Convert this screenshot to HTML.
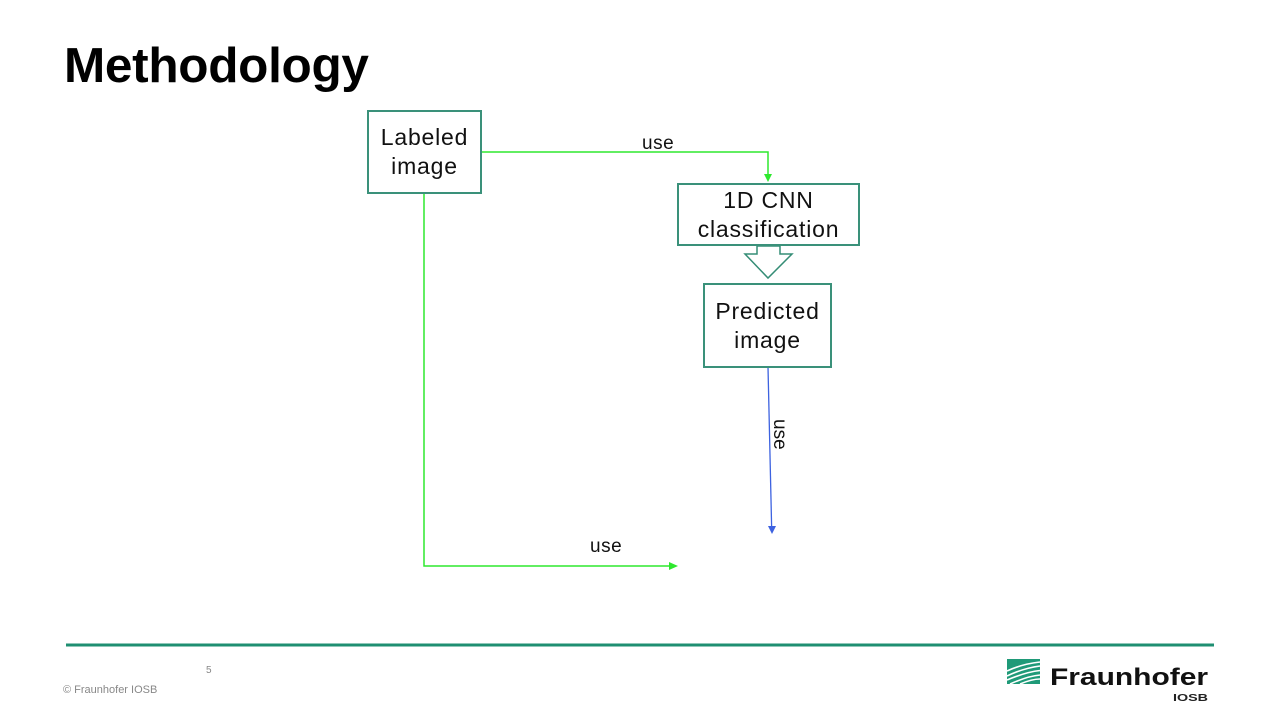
<!DOCTYPE html>
<html>
<head>
<meta charset="utf-8">
<style>
  html, body { margin:0; padding:0; background:#fff; }
  body { width:1280px; height:718px; position:relative; overflow:hidden; font-family:"Liberation Sans", "DejaVu Sans", sans-serif; }
  .title { position:absolute; left:64px; top:38px; font-size:49.5px; font-weight:bold; color:#000; line-height:56px; letter-spacing:-0.3px; }
  .box { position:absolute; border:2px solid #3a917a; box-sizing:border-box; background:#fff; display:flex; align-items:center; justify-content:center; text-align:center; font-size:23px; letter-spacing:0.8px; line-height:29px; color:#111; }
  .lbl { position:absolute; font-size:19px; letter-spacing:0.5px; color:#111; }
</style>
</head>
<body>
<div class="title">Methodology</div>

<svg width="1280" height="718" style="position:absolute;left:0;top:0">
  <!-- green connector 1 -->
  <polyline points="481,152 768,152 768,175" fill="none" stroke="#2ee82e" stroke-width="1.5"/>
  <polygon points="764,174 772,174 768,182" fill="#2ee82e"/>
  <!-- green connector 2 -->
  <polyline points="424,194 424,566 670,566" fill="none" stroke="#2ee82e" stroke-width="1.5"/>
  <polygon points="669,562 669,570 678,566" fill="#2ee82e"/>
  <!-- blue connector -->
  <line x1="768" y1="367" x2="771.6" y2="526" stroke="#3d62e0" stroke-width="1.3"/>
  <polygon points="768,526 776,526 772,534" fill="#3d62e0"/>
  <!-- block arrow -->
  <polygon points="757,246 780,246 780,254 792,254 768,278 745,254 757,254" fill="#fff" stroke="#358d76" stroke-width="1.5"/>
  <!-- bottom rule -->
  <rect x="66" y="643.5" width="1148" height="3" fill="#1f8f72"/>
  <!-- logo icon -->
  <g>
    <rect x="1007" y="659" width="33" height="25" fill="#1f9a78"/>
    <path d="M1007,671 Q1022,664 1040,662" stroke="#fff" stroke-width="1.6" fill="none"/>
    <path d="M1007,676 Q1024,668 1040,666" stroke="#fff" stroke-width="1.6" fill="none"/>
    <path d="M1007,680 Q1026,672 1040,670.5" stroke="#fff" stroke-width="1.6" fill="none"/>
    <path d="M1010,684 Q1028,676 1040,675" stroke="#fff" stroke-width="1.6" fill="none"/>
    <path d="M1020,684 Q1032,679 1040,679" stroke="#fff" stroke-width="1.6" fill="none"/>
  </g>
  <text x="1050" y="685" font-family="Liberation Sans, sans-serif" font-weight="bold" font-size="24" fill="#111" textLength="158" lengthAdjust="spacingAndGlyphs">Fraunhofer</text>
  <text x="1173" y="701" font-family="Liberation Sans, sans-serif" font-weight="bold" font-size="10.5" fill="#222" textLength="35" lengthAdjust="spacingAndGlyphs">IOSB</text>
  <!-- rotated label -->
  <text x="0" y="0" font-family="Liberation Sans, sans-serif" font-size="19" fill="#111" transform="translate(774,419) rotate(90)">use</text>
</svg>

<div class="box" style="left:367px;top:110px;width:115px;height:84px;">Labeled<br>image</div>
<div class="box" style="left:677px;top:183px;width:183px;height:63px;">1D CNN<br>classification</div>
<div class="box" style="left:703px;top:283px;width:129px;height:85px;">Predicted<br>image</div>

<div class="lbl" style="left:642px;top:133px;">use</div>
<div class="lbl" style="left:590px;top:536px;">use</div>

<div style="position:absolute;left:206px;top:665px;font-size:10px;color:#888;">5</div>
<div style="position:absolute;left:63px;top:684px;font-size:11px;color:#888;">© Fraunhofer IOSB</div>
</body>
</html>
